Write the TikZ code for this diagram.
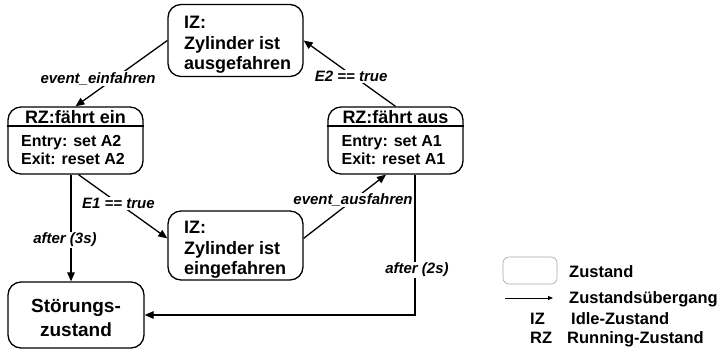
\documentclass[tikz,border=0pt]{standalone}
\usepackage{fontspec}
\setmainfont{Liberation Sans}
\usetikzlibrary{arrows.meta}

\begin{document}
\begin{tikzpicture}[x=1pt,y=-1pt,
  state/.style={draw,line width=1.3pt,rounded corners=13pt,
    minimum width=135pt,minimum height=#1,inner sep=0pt},
  statetext/.style={font=\fontsize{18}{20.5}\selectfont\bfseries,
    align=left,inner sep=0pt},
  titletext/.style={font=\fontsize{18}{20}\selectfont\bfseries,inner sep=0pt},
  actiontext/.style={font=\fontsize{16}{18}\selectfont\bfseries,
    align=left,inner sep=0pt},
  lbl/.style={font=\fontsize{15}{17}\selectfont\bfseries\itshape,
    fill=white,inner sep=1pt},
  arr/.style={line width=1.3pt,-{Triangle[length=9pt,width=7.5pt]}},
  legtext/.style={font=\fontsize{16.5}{18}\selectfont\bfseries,
    anchor=base west,inner sep=0pt},
]
\useasboundingbox (0,0) rectangle (722,353);

% idle state: cylinder extended
\node[state=72pt] (iza) at (235.5,40.5) {};
\node[statetext,anchor=north west] (iza-t) at (184,16)
  {IZ:\\Zylinder ist\\ausgefahren};

% idle state: cylinder retracted
\node[state=69pt] (ize) at (235.5,245.5) {};
\node[statetext,anchor=north west] (ize-t) at (184,221)
  {IZ:\\Zylinder ist\\eingefahren};

% running state: retracting
\node[state=67pt] (rze) at (75.5,140.5) {};
\draw[line width=1.1pt] (rze.west |- 0,126) -- (rze.east |- 0,126);
\node[titletext,anchor=base] (rze-t) at (75.5,123) {RZ:fährt ein};
\node[actiontext,anchor=north] (rze-a) at (73,135.5)
  {Entry: set A2\\Exit: reset A2};

% running state: extending
\node[state=67pt] (rza) at (395.5,140.5) {};
\draw[line width=1.1pt] (rza.west |- 0,126) -- (rza.east |- 0,126);
\node[titletext,anchor=base] (rza-t) at (395.5,123) {RZ:fährt aus};
\node[actiontext,anchor=north] (rza-a) at (393.5,135.5)
  {Entry: set A1\\Exit: reset A1};

% fault state
\node[state=66pt,minimum width=136pt] (stoer) at (76,315) {};
\node[font=\fontsize{19}{24}\selectfont\bfseries,align=center,
  inner sep=0pt,anchor=north] (stoer-t) at (76,299.5)
  {Störungs-\\zustand};

% transitions
\draw[arr] (iza.west) -- node[lbl,pos=0.58,xshift=-16pt] {event\_einfahren} (rze.north);
\draw[arr] (rza.north) -- node[lbl,pos=0.45,xshift=-3pt] {E2 == true} (iza.east);
\draw[arr] ([xshift=3pt]rze.south) -- node[lbl,pos=0.45] {E1 == true} (ize.174);
\draw[arr] ([xshift=-4.5pt]rze.south) -- node[lbl,pos=0.61,xshift=-6pt] {after (3s)}
  ([xshift=-4.5pt]rze.south |- stoer.north);
\draw[arr] (ize.6) -- node[lbl,pos=0.6] {event\_ausfahren} ([xshift=-9.5pt]rza.south);
\draw[arr] ([xshift=19.5pt]rza.south) |- node[lbl,pos=0.34,xshift=2pt] {after (2s)} (stoer.east);

% legend
\node[draw=gray!70,line width=0.6pt,rounded corners=6pt,minimum width=54pt,
  minimum height=27pt,inner sep=0pt] (leg-box) at (530,270.5) {};
\node[legtext] (leg-state) at (569,277) {Zustand};
\coordinate (leg-a) at (505,298);
\coordinate (leg-b) at (553,298);
\draw[line width=0.8pt,-{Triangle[length=5pt,width=4pt]}] (leg-a) -- (leg-b);
\node[legtext] (leg-trans) at (569,303) {Zustandsübergang};
\node[legtext] (leg-iz) at (530,324) {IZ};
\node[legtext] (leg-izt) at (571,324) {Idle-Zustand};
\node[legtext] (leg-rz) at (530,343) {RZ};
\node[legtext] (leg-rzt) at (567,343) {Running-Zustand};
\end{tikzpicture}
\end{document}
